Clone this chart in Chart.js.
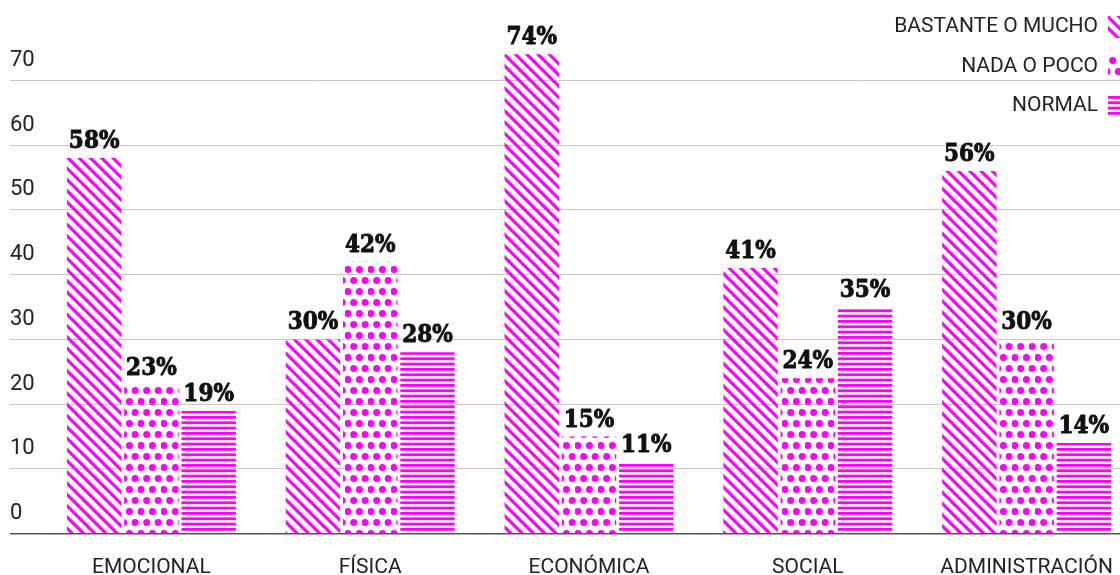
<!DOCTYPE html>
<html><head><meta charset="utf-8">
<script src="https://cdn.jsdelivr.net/npm/chart.js@4"></script>
<style>
html,body{margin:0;padding:0;background:#fff;overflow:hidden;width:1120px;height:575px;}
#wrap{position:relative;width:1140px;height:575px;}
canvas{display:block;}
</style></head><body>
<div id="wrap"><canvas id="c" width="1140" height="575" style="width:1140px;height:575px"></canvas></div>
<script>
const categories = ['EMOCIONAL', 'FÍSICA', 'ECONÓMICA', 'SOCIAL', 'ADMINISTRACIÓN'];
const seriesNames = ['BASTANTE O MUCHO', 'NADA O POCO', 'NORMAL'];
const bastanteOMucho = [58, 30, 74, 41, 56];
const nadaOPoco = [23, 42, 15, 24, 30];
const normal = [19, 28, 11, 35, 14];
const yTickValues = [0, 10, 20, 30, 40, 50, 60, 70];

const MAGENTA = '#ff00ff';
const canvas = document.getElementById('c');
const mainCtx = canvas.getContext('2d');

function diagPattern() {
  const s = 45, c = document.createElement('canvas');
  c.width = s; c.height = s;
  const x = c.getContext('2d');
  x.strokeStyle = MAGENTA; x.lineWidth = 3.1;
  const p = s / 4;
  for (let k = -8; k <= 8; k++) {
    const o = k * p;
    x.beginPath(); x.moveTo(o - 4, -4); x.lineTo(o + s + 4, s + 4); x.stroke();
  }
  return mainCtx.createPattern(c, 'repeat');
}
function dotPattern() {
  const w = 11.3 * 2, h = 22, c = document.createElement('canvas');
  c.width = 23; c.height = h;
  const x = c.getContext('2d');
  x.fillStyle = MAGENTA;
  const pts = [[2.9, 5.5], [14.4, 5.5], [8.65, 16.5], [20.15, 16.5]];
  pts.forEach(([px, py]) => { x.beginPath(); x.arc(px, py, 3.5, 0, Math.PI * 2); x.fill(); });
  // wrap partial dots at edges
  [[-2.85, 16.5]].forEach(([px, py]) => { x.beginPath(); x.arc(px, py, 3.5, 0, Math.PI * 2); x.fill(); });
  return mainCtx.createPattern(c, 'repeat');
}
function hPattern() {
  const h = 16, c = document.createElement('canvas');
  c.width = 4; c.height = h;
  const x = c.getContext('2d');
  x.fillStyle = MAGENTA;
  for (let i = 0; i < 3; i++) x.fillRect(0, i * h / 3, 4, 2.8);
  return mainCtx.createPattern(c, 'repeat');
}
const patterns = [diagPattern(), dotPattern(), hPattern()];

const valueLabels = {
  id: 'valueLabels',
  afterDraw(chart) {
    const ctx = chart.ctx;
    ctx.save();
    ctx.font = "bold 24px 'DejaVu Serif Condensed', 'DejaVu Serif', serif";
    ctx.fillStyle = '#111';
    ctx.strokeStyle = '#111';
    ctx.lineWidth = 0.9;
    ctx.lineJoin = 'round';
    ctx.textAlign = 'center';
    ctx.textBaseline = 'alphabetic';
    chart.data.datasets.forEach((ds, di) => {
      const meta = chart.getDatasetMeta(di);
      meta.data.forEach((el, i) => {
        const t = ds.data[i] + '%';
        ctx.fillText(t, el.x, el.y - 10);
        ctx.strokeText(t, el.x, el.y - 10);
      });
    });
    ctx.restore();
  }
};

const sideLegend = {
  id: 'sideLegend',
  afterDraw(chart) {
    const ctx = chart.ctx;
    ctx.save();
    const rows = [27, 66.5, 106];
    ctx.font = "21px Roboto";
    ctx.textAlign = 'right';
    ctx.textBaseline = 'middle';
    chart.data.datasets.forEach((ds, di) => {
      const y = rows[di];
      ctx.fillStyle = '#222';
      ctx.fillText(ds.label, 1098, y);
      ctx.fillStyle = ds.backgroundColor;
      ctx.fillRect(1108, y - 11, 20, 22);
    });
    ctx.restore();
  }
};

new Chart(canvas, {
  type: 'bar',
  data: {
    labels: categories,
    datasets: [
      { label: seriesNames[0], data: bastanteOMucho, backgroundColor: patterns[0], borderWidth: 0 },
      { label: seriesNames[1], data: nadaOPoco, backgroundColor: patterns[1], borderWidth: 0 },
      { label: seriesNames[2], data: normal, backgroundColor: patterns[2], borderWidth: 0 }
    ]
  },
  options: {
    responsive: false,
    animation: false,
    devicePixelRatio: 1,
    layout: { padding: { left: 10, right: 4, top: 15.5, bottom: 0 } },
    datasets: { bar: { categoryPercentage: 0.785, barPercentage: 0.95 } },
    plugins: { legend: { display: false }, tooltip: { enabled: false } },
    scales: {
      x: {
        grid: { display: false },
        border: { display: false },
        ticks: { font: { family: 'Roboto', size: 21 }, color: '#222', padding: 13, maxRotation: 0, autoSkip: false },
        afterFit(s) { s.height = 41.3; }
      },
      y: {
        min: 0, max: 80, z: 1,
        border: { display: false },
        grid: {
          color: c => c.tick && c.tick.value === 0 ? '#555' : '#c8c8c8',
          lineWidth: c => c.tick && c.tick.value === 0 ? 1.5 : 1,
          tickLength: 32, drawTicks: true
        },
        ticks: { stepSize: 10, crossAlign: 'far', labelOffset: -20, padding: 0,
                 font: { family: 'Roboto', size: 22 }, color: '#222' },
        afterBuildTicks(s) { s.ticks = yTickValues.map(v => ({ value: v })); },
        afterFit(s) { s.width = 32; }
      }
    }
  },
  plugins: [valueLabels, sideLegend]
});
</script>
</body></html>
